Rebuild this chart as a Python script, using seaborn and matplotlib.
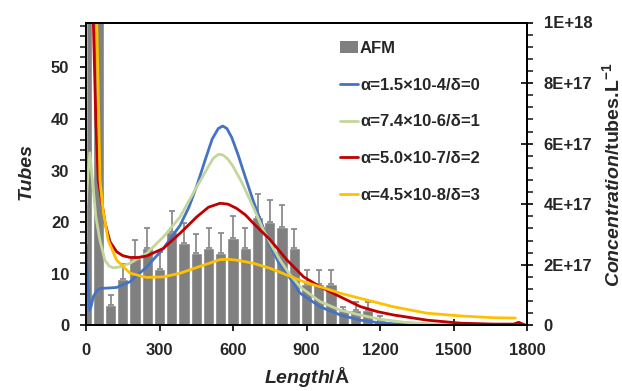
import numpy as np
import pandas as pd
import matplotlib
matplotlib.use("Agg")
import matplotlib.pyplot as plt
import seaborn as sns
from matplotlib.patches import Patch
from matplotlib.lines import Line2D
from matplotlib.ticker import MultipleLocator, FixedLocator, FixedFormatter

# ---------------- data ----------------
bin_centers = [0, 50, 100, 150, 200, 250, 300, 350, 400, 450, 500, 550, 600,
               650, 700, 750, 800, 850, 900, 950, 1000, 1050, 1100, 1150, 1200]
afm_counts = [70, 70, 4, 9, 13, 15, 11, 18, 16, 14, 15, 14, 17,
              15, 21, 20, 19, 15, 8, 8, 8, 3, 3, 3, 1]
afm_err = [0, 0, 1.9, 2.9, 3.5, 3.8, 3.3, 4.2, 3.8, 3.7, 3.8, 3.8, 4.2,
           3.8, 4.5, 4.3, 4.3, 3.7, 2.8, 2.8, 2.8, 0.5, 1.6, 1.6, 0.8]

# curves, concentration in units of 1E+17 tubes/L
blue_x = [0, 6, 14, 20, 30, 45, 60, 90, 125, 180, 248, 316, 384, 420, 452, 490, 515,
          540, 558, 575, 595, 620, 650, 683, 720, 751, 785, 819, 874, 956, 1038, 1119,
          1200, 1300, 1450, 1800]
blue_y = [2.65, 1.6, 0.5, 0.6, 0.95, 1.15, 1.22, 1.23, 1.25, 1.44, 1.93, 2.54, 3.3, 3.9,
          4.6, 5.55, 6.15, 6.5, 6.58, 6.5, 6.2, 5.65, 4.9, 4.1, 3.3, 2.65, 2.1, 1.72,
          1.06, 0.61, 0.34, 0.17, 0.08, 0.03, 0.01, 0.0]

green_x = [0, 8, 16, 25, 40, 57, 77, 95, 111, 140, 180, 248, 316, 384, 452, 500, 520,
           541, 560, 580, 600, 636, 680, 724, 760, 792, 830, 874, 956, 1038, 1119, 1200,
           1300, 1400, 1550, 1800]
green_y = [4.0, 5.0, 5.7, 4.9, 3.6, 2.8, 2.15, 1.95, 1.9, 1.93, 2.05, 2.38, 2.92, 3.58,
           4.57, 5.25, 5.52, 5.65, 5.62, 5.48, 5.25, 4.72, 3.95, 3.15, 2.6, 2.15, 1.7,
           1.27, 0.78, 0.5, 0.34, 0.2, 0.1, 0.05, 0.02, 0.0]

red_x = [0, 15, 30, 40, 50, 64, 78, 98, 125, 150, 180, 215, 248, 316, 384, 452, 500,
         547, 580, 615, 650, 683, 752, 820, 888, 956, 1038, 1119, 1190, 1256, 1392,
         1528, 1664, 1746, 1766, 1780, 1795]
red_y = [20, 15, 10, 6.8, 4.8, 4.1, 3.37, 2.76, 2.43, 2.3, 2.24, 2.24, 2.29, 2.54,
         3.04, 3.58, 3.9, 4.03, 4.0, 3.86, 3.65, 3.37, 2.82, 2.16, 1.6, 1.27, 0.94,
         0.62, 0.45, 0.34, 0.17, 0.07, 0.04, 0.04, 0.1, 0.05, 0.0]

orange_x = [0, 2, 20, 44, 52, 57, 71, 91, 125, 180, 248, 316, 384, 452, 547, 580,
            615, 683, 752, 820, 888, 956, 1038, 1119, 1256, 1392, 1528, 1664, 1752]
orange_y = [2.7, 12, 14, 10, 6.8, 4.8, 3.7, 2.8, 2.15, 1.72, 1.58, 1.6, 1.72, 1.91,
            2.17, 2.18, 2.15, 2.05, 1.88, 1.66, 1.44, 1.27, 1.06, 0.89, 0.61, 0.4,
            0.31, 0.25, 0.24]

labels = ["AFM", "α=1.5×10-4/δ=0", "α=7.4×10-6/δ=1", "α=5.0×10-7/δ=2", "α=4.5×10-8/δ=3"]
colors = ["#808080", "#4472C4", "#C3D69B", "#C00000", "#FFC000"]

x_ticks = [0, 300, 600, 900, 1200, 1500, 1800]
left_ticks = [0, 10, 20, 30, 40, 50]
right_ticks = [0, 2e17, 4e17, 6e17, 8e17, 1e18]
right_ticklabels = ["0", "2E+17", "4E+17", "6E+17", "8E+17", "1E+18"]

# ---------------- style ----------------
sns.set_style("ticks")
plt.rcParams["font.family"] = ["Liberation Sans", "DejaVu Sans"]
plt.rcParams["font.weight"] = "bold"
plt.rcParams["mathtext.fontset"] = "custom"
plt.rcParams["mathtext.rm"] = "Liberation Sans:bold"
plt.rcParams["mathtext.it"] = "Liberation Sans:bold:italic"
plt.rcParams["mathtext.bf"] = "Liberation Sans:bold"

W, H = 622, 391
fig = plt.figure(figsize=(W / 100, H / 100), dpi=100)
L, R, T, B = 86, 527, 22.5, 325.3
ax = fig.add_axes([L / W, 1 - B / H, (R - L) / W, (B - T) / H])

df = pd.DataFrame({"Length": bin_centers, "Tubes": afm_counts})
sns.barplot(data=df, x="Length", y="Tubes", native_scale=True, width=0.9,
            color=colors[0], saturation=1, errorbar=None, ax=ax, zorder=1)
yerr = np.array([np.zeros(len(afm_err)), afm_err])
ax.errorbar(bin_centers, afm_counts, yerr=yerr, fmt="none", ecolor="#8C8C8C",
            elinewidth=1.3, capsize=2.5, capthick=1.3, zorder=2)

ax.set_xlim(0, 1800)
ax.set_ylim(0, 58.7)
ax.xaxis.set_major_locator(FixedLocator(x_ticks))
ax.set_xticklabels([str(v) for v in x_ticks])
ax.yaxis.set_major_locator(FixedLocator(left_ticks))
ax.yaxis.set_minor_locator(MultipleLocator(2))
ax.set_xlabel("")
ax.set_ylabel("")

ax2 = ax.twinx()
for xs, ys, c in [(blue_x, blue_y, colors[1]), (green_x, green_y, colors[2]),
                  (red_x, red_y, colors[3]), (orange_x, orange_y, colors[4])]:
    sns.lineplot(x=np.array(xs), y=np.array(ys) * 1e17, ax=ax2, color=c, lw=2.0,
                 sort=False, estimator=None)
ax2.set_ylim(0, 1e18)
ax2.set_xlim(0, 1800)
ax2.yaxis.set_major_locator(FixedLocator(right_ticks))
ax2.yaxis.set_major_formatter(FixedFormatter(right_ticklabels))
ax2.yaxis.set_minor_locator(MultipleLocator(4e16))
ax2.set_ylabel("")

for a in (ax, ax2):
    for s in a.spines.values():
        s.set_visible(True)
        s.set_linewidth(1.4)
        s.set_color("black")

ax.tick_params(axis="x", which="major", direction="inout", length=8, width=1.4,
               labelsize=12, pad=9)
ax.tick_params(axis="y", which="major", direction="inout", length=8, width=1.4,
               labelsize=12, pad=8)
ax.tick_params(axis="y", which="minor", direction="out", length=4, width=1.2)
ax2.tick_params(axis="y", which="major", direction="inout", length=8, width=1.4,
                labelsize=12, pad=8)
ax2.tick_params(axis="y", which="minor", direction="out", length=4, width=1.2)
for lab in ax.get_xticklabels() + ax.get_yticklabels() + ax2.get_yticklabels():
    lab.set_fontweight("bold")

handles = [Patch(facecolor=colors[0], edgecolor="none")] + \
          [Line2D([0], [0], color=c, lw=2.0) for c in colors[1:]]
ax2.legend(handles, labels, loc="upper left",
           bbox_to_anchor=(340 / W, 1 - 41 / H), bbox_transform=fig.transFigure,
           frameon=False, handlelength=1.1, handletextpad=0.1, labelspacing=1.3,
           borderpad=0, borderaxespad=0, prop={"weight": "bold", "size": 12})

fig.text(26 / W, 1 - 172 / H, "Tubes", rotation=90, ha="center", va="center",
         fontsize=14, fontweight="bold", fontstyle="italic")
fig.text(612 / W, 1 - 175 / H, r"$\mathit{Concentration}$/tubes.L$^{-1}$",
         rotation=90, ha="center", va="center", fontsize=14, fontweight="bold")
fig.text(307 / W, 1 - 377 / H, r"$\mathit{Length}$/Å", ha="center", va="center",
         fontsize=14, fontweight="bold")

fig.savefig("out.png", dpi=100)
